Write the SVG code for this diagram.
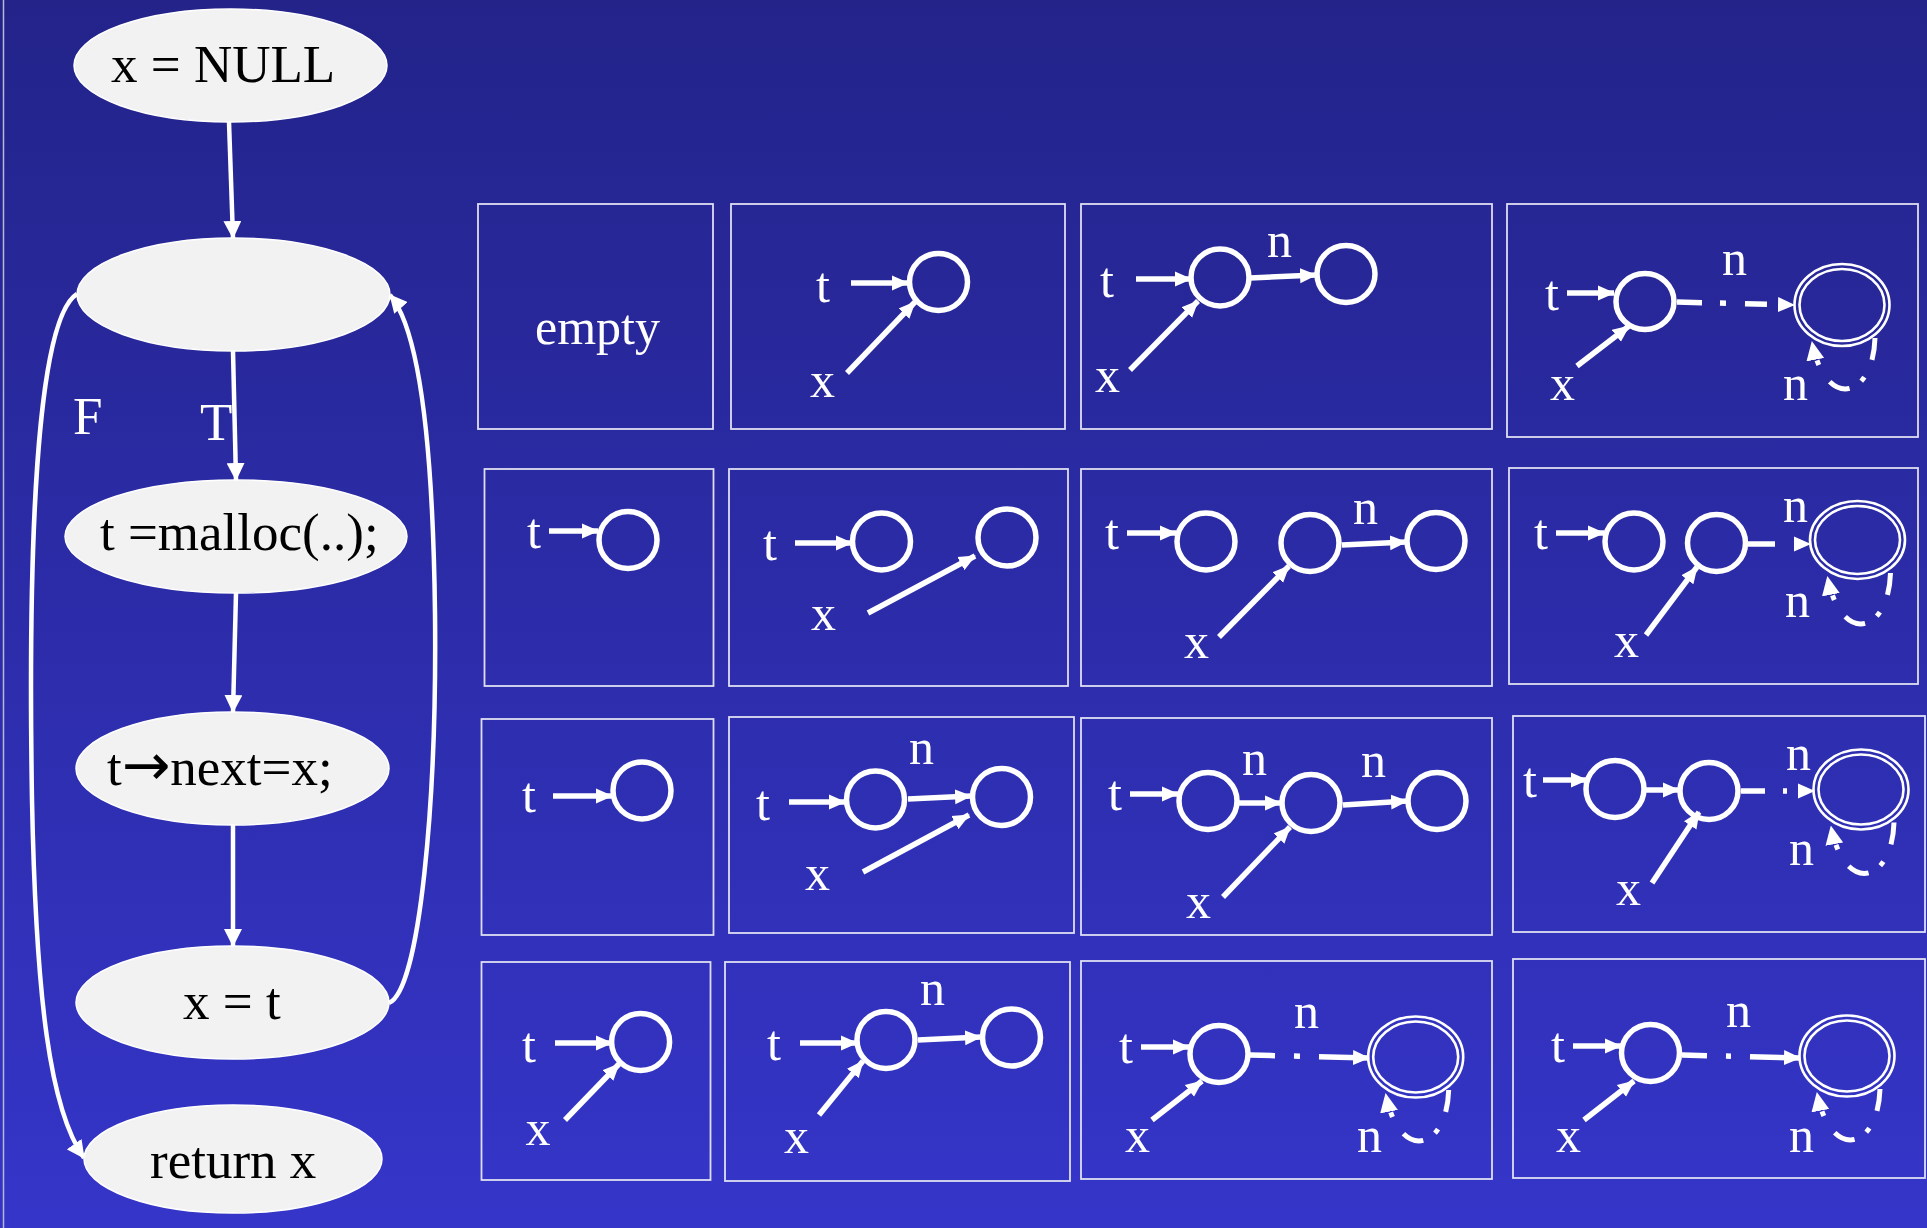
<svg xmlns="http://www.w3.org/2000/svg" xmlns:xlink="http://www.w3.org/1999/xlink" width="1927" height="1228" viewBox="0 0 1927 1228">
<defs>
<linearGradient id="bg" x1="0" y1="0" x2="0" y2="1">
<stop offset="0" stop-color="#23238a"/>
<stop offset="1" stop-color="#3535c9"/>
</linearGradient>
<marker id="fa" viewBox="0 0 18 18" refX="17" refY="9" markerWidth="18" markerHeight="18" markerUnits="userSpaceOnUse" orient="auto"><path d="M0,0 L18,9 L0,18 z" fill="#fff"/></marker>
<marker id="pa" viewBox="0 0 17 16" refX="16" refY="8" markerWidth="17" markerHeight="16" markerUnits="userSpaceOnUse" orient="auto"><path d="M0,0.5 L17,8 L0,15.5 z" fill="#fff"/></marker>
<marker id="la" viewBox="0 0 19 18" refX="18" refY="9" markerWidth="19" markerHeight="18" markerUnits="userSpaceOnUse" orient="auto"><path d="M0,0 L19,9 L0,18 z" fill="#fff"/></marker>
<path id="loop" d="M33,33 C31,95 -17,105 -30,37" fill="none" stroke="#fff" stroke-width="5" stroke-dasharray="22 19 5 14 22 20 5 60" marker-end="url(#la)"/>
<style>
.node ellipse{fill:#f2f2f2;stroke:#fff;stroke-width:1.5}
.nt{font-family:"Liberation Serif","Times New Roman",serif;font-size:53px;fill:#000}
.wl{font-family:"Liberation Serif","Times New Roman",serif;font-size:53px;fill:#fff}
.lbl{font-family:"Liberation Serif","Times New Roman",serif;font-size:50px;fill:#fff}
.fe{fill:none;stroke:#fff;stroke-width:4.5;marker-end:url(#fa)}
.box{fill:none;stroke:#dedef2;stroke-width:1.8}
.c{fill:none;stroke:#fff;stroke-width:5.5}
.dc{fill:none;stroke:#fff;stroke-width:2.6}
.ar{fill:none;stroke:#fff;stroke-width:5.5;marker-end:url(#pa)}
</style>
</defs>
<rect x="0" y="0" width="1927" height="1228" fill="url(#bg)"/>
<line x1="3.5" y1="0" x2="3.5" y2="1228" stroke="#b8b8d0" stroke-width="1.5"/>

<!-- flowchart nodes -->
<g id="n-null" class="node"><ellipse cx="230.5" cy="65.5" rx="156.5" ry="56.5"/><text class="nt" x="111" y="82">x = NULL</text></g>
<g id="n-cond" class="node"><ellipse cx="233.5" cy="294.5" rx="156.5" ry="56.5"/></g>
<g id="n-malloc" class="node"><ellipse cx="236" cy="536.5" rx="171" ry="56.5"/><text class="nt" x="100" y="550">t =malloc(..);</text></g>
<g id="n-next" class="node"><ellipse cx="232.5" cy="768.5" rx="156.5" ry="56.5"/><text class="nt" x="107" y="785">t<tspan font-family="'DejaVu Sans',sans-serif" font-size="58">→</tspan>next=x;</text></g>
<g id="n-assign" class="node"><ellipse cx="232.5" cy="1002.5" rx="156.5" ry="56.5"/><text class="nt" x="183" y="1019">x = t</text></g>
<g id="n-return" class="node"><ellipse cx="233" cy="1159" rx="149" ry="54"/><text class="nt" x="150" y="1178">return x</text></g>

<!-- flowchart connectors -->
<g id="flow-edges">
<path class="fe" d="M229,122 L233,238"/>
<path class="fe" d="M233,351 L236,480"/>
<path class="fe" d="M236,593 L233,712"/>
<path class="fe" d="M233,825 L233,946"/>
<path class="fe" d="M77,294 C35,320 28,560 32,800 C36,1000 50,1110 84,1158"/>
<path class="fe" d="M389,1003 C420,990 437,800 435,613 C433,450 420,330 390,295"/>
<text class="wl" x="73" y="434">F</text>
<text class="wl" x="200" y="440">T</text>
</g>

<!-- Row 1 -->
<g id="panel-a">
<rect class="box" x="478" y="204" width="235" height="225"/>
<text class="lbl" x="535" y="344">empty</text>
</g>
<g id="panel-b">
<rect class="box" x="731" y="204" width="334" height="225"/>
<ellipse class="c" cx="938.5" cy="282" rx="29" ry="28.5"/>
<text class="lbl" x="816" y="302">t</text>
<text class="lbl" x="810" y="397">x</text>
<g class="edges"><path class="ar" d="M851,283 L908,283"/><path class="ar" d="M847,373 L915,302"/></g>
</g>
<g id="panel-c">
<rect class="box" x="1081" y="204" width="411" height="225"/>
<ellipse class="c" cx="1220" cy="277.5" rx="29" ry="28.5"/>
<ellipse class="c" cx="1346" cy="274" rx="29" ry="28.5"/>
<text class="lbl" x="1100" y="297">t</text>
<text class="lbl" x="1267" y="257">n</text>
<text class="lbl" x="1095" y="392">x</text>
<g class="edges"><path class="ar" d="M1136,279 L1191,279"/><path class="ar" d="M1250,278 L1316,275"/><path class="ar" d="M1130,370 L1198,301"/></g>
</g>
<g id="panel-d">
<rect class="box" x="1507" y="204" width="411" height="233"/>
<ellipse class="c" cx="1645" cy="301.5" rx="29" ry="28"/>
<ellipse class="dc" cx="1842" cy="305" rx="47.5" ry="41"/>
<ellipse class="dc" cx="1842" cy="305" rx="42.5" ry="36"/>
<text class="lbl" x="1545" y="310">t</text>
<text class="lbl" x="1722" y="275">n</text>
<text class="lbl" x="1783" y="400">n</text>
<text class="lbl" x="1550" y="400">x</text>
<g class="edges"><path class="ar" d="M1567,293 L1614,293"/><path class="ar" d="M1577,366 L1629,326"/>
<path class="ar" d="M1677,302 L1794,305" stroke-dasharray="25 18 6 19 22 100"/>
<use xlink:href="#loop" href="#loop" x="1842" y="305"/></g>
</g>

<!-- Row 2 -->
<g id="panel-e">
<rect class="box" x="484.5" y="469" width="229" height="217"/>
<ellipse class="c" cx="628" cy="540" rx="29" ry="28.5"/>
<text class="lbl" x="527" y="548">t</text>
<g class="edges"><path class="ar" d="M549,531 L598,531"/></g>
</g>
<g id="panel-f">
<rect class="box" x="729" y="469" width="339" height="217"/>
<ellipse class="c" cx="881.5" cy="541.5" rx="29" ry="28.5"/>
<ellipse class="c" cx="1007" cy="537.5" rx="29" ry="28.5"/>
<text class="lbl" x="763" y="560">t</text>
<text class="lbl" x="811" y="630">x</text>
<g class="edges"><path class="ar" d="M795,543 L852,543"/><path class="ar" d="M868,613 L975,556"/></g>
</g>
<g id="panel-g">
<rect class="box" x="1081" y="469" width="411" height="217"/>
<ellipse class="c" cx="1206" cy="541.5" rx="29" ry="28.5"/>
<ellipse class="c" cx="1310" cy="543" rx="29" ry="28.5"/>
<ellipse class="c" cx="1436" cy="541" rx="29" ry="28.5"/>
<text class="lbl" x="1105" y="549">t</text>
<text class="lbl" x="1353" y="524">n</text>
<text class="lbl" x="1184" y="658">x</text>
<g class="edges"><path class="ar" d="M1127,533 L1176,533"/><path class="ar" d="M1342,545 L1406,542"/><path class="ar" d="M1219,637 L1289,566"/></g>
</g>
<g id="panel-h">
<rect class="box" x="1509" y="468" width="409" height="216"/>
<ellipse class="c" cx="1634" cy="541.5" rx="29" ry="28.5"/>
<ellipse class="c" cx="1716.5" cy="543" rx="29" ry="28.5"/>
<ellipse class="dc" cx="1857.5" cy="540" rx="47.5" ry="39"/>
<ellipse class="dc" cx="1857.5" cy="540" rx="42.5" ry="34"/>
<text class="lbl" x="1534" y="549">t</text>
<text class="lbl" x="1783" y="522">n</text>
<text class="lbl" x="1785" y="617">n</text>
<text class="lbl" x="1614" y="657">x</text>
<g class="edges"><path class="ar" d="M1556,533 L1604,533"/><path class="ar" d="M1646,635 L1697,567"/>
<path class="ar" d="M1748,544 L1810,544" stroke-dasharray="27 100"/>
<use xlink:href="#loop" href="#loop" x="1857.5" y="540"/></g>
</g>

<!-- Row 3 -->
<g id="panel-i">
<rect class="box" x="481.5" y="719" width="232" height="216"/>
<ellipse class="c" cx="642" cy="790.5" rx="29" ry="28.5"/>
<text class="lbl" x="522" y="812">t</text>
<g class="edges"><path class="ar" d="M553,796 L612,796"/></g>
</g>
<g id="panel-j">
<rect class="box" x="729" y="717" width="345" height="216"/>
<ellipse class="c" cx="875.5" cy="799.5" rx="29" ry="28.5"/>
<ellipse class="c" cx="1001.5" cy="797" rx="29" ry="28.5"/>
<text class="lbl" x="756" y="820">t</text>
<text class="lbl" x="909" y="764">n</text>
<text class="lbl" x="805" y="890">x</text>
<g class="edges"><path class="ar" d="M789,802 L845,802"/><path class="ar" d="M908,799 L971,796"/><path class="ar" d="M863,872 L969,815"/></g>
</g>
<g id="panel-k">
<rect class="box" x="1081" y="718" width="411" height="217"/>
<ellipse class="c" cx="1208" cy="801" rx="29" ry="28.5"/>
<ellipse class="c" cx="1311" cy="803" rx="29" ry="28.5"/>
<ellipse class="c" cx="1437" cy="801" rx="29" ry="28.5"/>
<text class="lbl" x="1108" y="810">t</text>
<text class="lbl" x="1242" y="775">n</text>
<text class="lbl" x="1361" y="777">n</text>
<text class="lbl" x="1186" y="918">x</text>
<g class="edges"><path class="ar" d="M1130,794 L1178,794"/><path class="ar" d="M1239,803 L1281,803"/><path class="ar" d="M1343,805 L1407,801"/><path class="ar" d="M1223,897 L1290,827"/></g>
</g>
<g id="panel-l">
<rect class="box" x="1513" y="716" width="412" height="216"/>
<ellipse class="c" cx="1615" cy="789" rx="29" ry="28.5"/>
<ellipse class="c" cx="1709" cy="791" rx="29" ry="28.5"/>
<ellipse class="dc" cx="1861" cy="789.5" rx="47.5" ry="40"/>
<ellipse class="dc" cx="1861" cy="789.5" rx="42.5" ry="35"/>
<text class="lbl" x="1523" y="797">t</text>
<text class="lbl" x="1786" y="770">n</text>
<text class="lbl" x="1789" y="865">n</text>
<text class="lbl" x="1616" y="905">x</text>
<g class="edges"><path class="ar" d="M1543,780 L1587,780"/><path class="ar" d="M1646,790 L1679,790"/><path class="ar" d="M1652,883 L1699,812"/>
<path class="ar" d="M1741,791 L1814,791" stroke-dasharray="24 18 4 100"/>
<use xlink:href="#loop" href="#loop" x="1861" y="789.5"/></g>
</g>

<!-- Row 4 -->
<g id="panel-m">
<rect class="box" x="481.5" y="962" width="229" height="218"/>
<ellipse class="c" cx="640.6" cy="1042" rx="29" ry="28.5"/>
<text class="lbl" x="522" y="1062">t</text>
<text class="lbl" x="525.5" y="1145">x</text>
<g class="edges"><path class="ar" d="M555,1043 L612,1043"/><path class="ar" d="M565,1120 L619,1064"/></g>
</g>
<g id="panel-n">
<rect class="box" x="725" y="962" width="345" height="219"/>
<ellipse class="c" cx="886" cy="1040" rx="29" ry="28.5"/>
<ellipse class="c" cx="1011.5" cy="1037.5" rx="29" ry="28.5"/>
<text class="lbl" x="767" y="1060">t</text>
<text class="lbl" x="920" y="1005">n</text>
<text class="lbl" x="784" y="1153">x</text>
<g class="edges"><path class="ar" d="M800,1043 L857,1043"/><path class="ar" d="M918,1040 L981,1037"/><path class="ar" d="M819,1115 L863,1061"/></g>
</g>
<g id="panel-o">
<rect class="box" x="1081" y="961" width="411" height="218"/>
<ellipse class="c" cx="1219" cy="1054" rx="29" ry="28.5"/>
<ellipse class="dc" cx="1415.7" cy="1057" rx="47.5" ry="40.5"/>
<ellipse class="dc" cx="1415.7" cy="1057" rx="42.5" ry="35.5"/>
<text class="lbl" x="1119" y="1063">t</text>
<text class="lbl" x="1294" y="1028">n</text>
<text class="lbl" x="1357" y="1152">n</text>
<text class="lbl" x="1125" y="1152">x</text>
<g class="edges"><path class="ar" d="M1141,1047 L1189,1047"/><path class="ar" d="M1152,1120 L1202,1081"/>
<path class="ar" d="M1250,1055 L1369,1058" stroke-dasharray="25 19 6 19 100"/>
<use xlink:href="#loop" href="#loop" x="1415.7" y="1057"/></g>
</g>
<g id="panel-p">
<rect class="box" x="1513" y="959" width="412" height="219"/>
<ellipse class="c" cx="1650.5" cy="1053" rx="29" ry="28.5"/>
<ellipse class="dc" cx="1847" cy="1056" rx="47.5" ry="40.5"/>
<ellipse class="dc" cx="1847" cy="1056" rx="42.5" ry="35.5"/>
<text class="lbl" x="1551" y="1062">t</text>
<text class="lbl" x="1726" y="1027">n</text>
<text class="lbl" x="1789" y="1152">n</text>
<text class="lbl" x="1556" y="1152">x</text>
<g class="edges"><path class="ar" d="M1573,1046 L1621,1046"/><path class="ar" d="M1584,1120 L1634,1081"/>
<path class="ar" d="M1682,1055 L1800,1058" stroke-dasharray="25 19 5 19 100"/>
<use xlink:href="#loop" href="#loop" x="1847" y="1056"/></g>
</g>
</svg>
